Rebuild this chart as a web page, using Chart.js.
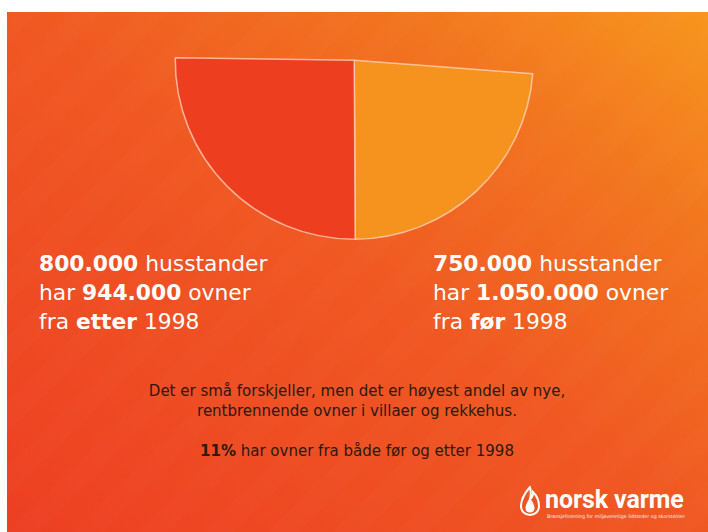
<!DOCTYPE html>
<html lang="no">
<head>
    <meta charset="UTF-8">
    <title>Ovner før og etter 1998</title>
    <script src="https://cdn.jsdelivr.net/npm/chart.js"></script>
    <style>
        body { margin: 0; width: 708px; height: 532px; background: #fff; position: relative; overflow: hidden; font-family: "DejaVu Sans", Verdana, sans-serif; }
        #panel {
            position: absolute; left: 7px; top: 12px; right: 0; bottom: 0;
            background:
                repeating-linear-gradient(135deg, rgba(255,255,255,0.012) 0 22px, rgba(255,255,255,0) 22px 46px),
                linear-gradient(to top right, #ed3f23 0%, #f05822 50%, #f2751f 78%, #f7961d 100%);
        }
        #wrap { position: absolute; left: 168px; top: 53px; width: 372px; height: 191px; }
        .big { position: absolute; top: 249px; color: #fff; font-size: 21.8px; line-height: 29px; }
        .big b { font-weight: bold; }
        #midt { position: absolute; left: 107px; top: 382px; width: 500px; text-align: center; color: #2a1a12; font-size: 15px; line-height: 19.5px; }
        #midt p { margin: 0; }
        #logo { position: absolute; left: 520px; top: 486px; color: #fff; }
        #logo .navn { position: absolute; left: 25px; top: 2px; font-family: Roboto, sans-serif; font-weight: 700; font-size: 25px; letter-spacing: -0.1px; white-space: nowrap; line-height: 24px; }
        #logo .tag { position: absolute; left: 27px; top: 28px; font-size: 4.8px; white-space: nowrap; line-height: 6px; opacity: 0.9; }
    </style>
</head>
<body>
    <div id="panel"></div>

    <div id="wrap"><canvas id="ovnerChart" width="372" height="191"></canvas></div>

    <div class="big" style="left:39px"><b>800.000</b> husstander<br>har <b>944.000</b> ovner<br>fra <b>etter</b> 1998</div>
    <div class="big" style="left:433px"><b>750.000</b> husstander<br>har <b>1.050.000</b> ovner<br>fra <b>før</b> 1998</div>

    <div id="midt">
        <p>Det er små forskjeller, men det er høyest andel av nye,</p>
        <p>rentbrennende ovner i villaer og rekkehus.</p>
        <p style="margin-top:21px"><b>11%</b> har ovner fra både før og etter 1998</p>
    </div>

    <div id="logo">
        <svg width="20" height="30" viewBox="0 0 20 30" style="position:absolute;left:0;top:0">
            <path d="M10 1 C 4 8, 1 14, 1 20 C 1 25.5, 5 29, 10 29 C 15 29, 19 25.5, 19 20 C 19 14, 16 9, 13 6 C 13 10, 12 12, 10 13 C 11 9, 11 5, 10 1 Z" fill="none" stroke="#fff" stroke-width="2"/>
            <path d="M10 12 C 7 16, 5.5 19, 5.5 22 C 5.5 25, 7.5 26.5, 10 26.5 C 12.5 26.5, 14.5 25, 14.5 22 C 14.5 18.5, 12 15, 10 12 Z" fill="#fff"/>
        </svg>
        <div class="navn">norsk varme</div>
        <div class="tag">Bransjeforening for miljøvennlige ildsteder og skorsteiner</div>
    </div>

    <script>
        // husstander, orange (før) forst, sa rod (etter) med klokka
        var labels = ["Ovner fra før 1998", "Ovner fra etter 1998"];
        var husstander = [750000, 800000];
        var ovner = [1050000, 944000];
        var farger = ["#f6921e", "#ed3e1f"];

        var ctx = document.getElementById("ovnerChart").getContext("2d");
        new Chart(ctx, {
            type: "pie",
            data: {
                labels: labels,
                datasets: [{
                    data: husstander,
                    backgroundColor: farger,
                    borderColor: "rgba(255,215,195,0.75)",
                    borderWidth: 1.5
                }]
            },
            options: {
                responsive: false,
                animation: false,
                rotation: 94.3,
                circumference: 176.5,
                layout: { padding: 4 },
                plugins: {
                    legend: { display: false },
                    tooltip: { enabled: false }
                }
            }
        });
    </script>
</body>
</html>
